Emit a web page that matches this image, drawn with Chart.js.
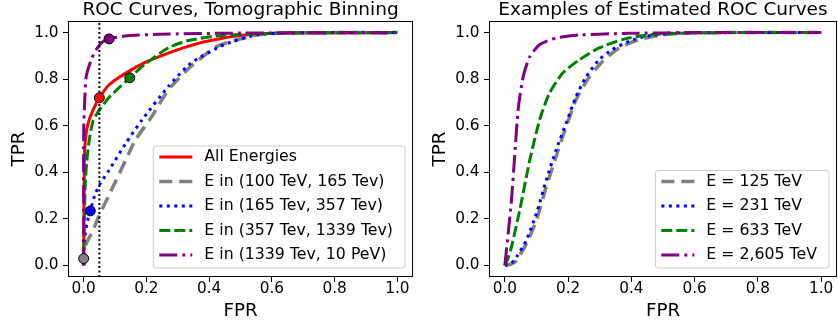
<!DOCTYPE html>
<html>
<head>
<meta charset="utf-8">
<script src="https://cdn.jsdelivr.net/npm/chart.js@4"></script>
<style>
  body { margin: 0; background: #fff; }
  #wrap { position: relative; width: 838px; height: 328px; }
  canvas { position: absolute; top: 0; }
</style>
</head>
<body>
<div id="wrap">
  <canvas id="left" width="419" height="328" style="left:0"></canvas>
  <canvas id="right" width="419" height="328" style="left:419px"></canvas>
</div>
<script>
// left panel: ROC per tomographic bin
const allFpr = [0, 0.002, 0.006, 0.014, 0.03, 0.05, 0.081, 0.134, 0.196, 0.27, 0.33, 0.4, 0.5, 0.65, 1];
const allTpr = [0, 0.45, 0.55, 0.61, 0.668, 0.72, 0.776, 0.826, 0.872, 0.912, 0.94, 0.965, 0.988, 0.998, 1];

const b100Fpr = [0, 0, 0.008, 0.03, 0.05, 0.081, 0.144, 0.165, 0.217, 0.27, 0.342, 0.426, 0.55, 0.65, 1];
const b100Tpr = [0, 0.05, 0.093, 0.151, 0.216, 0.302, 0.481, 0.539, 0.639, 0.754, 0.855, 0.941, 0.99, 0.999, 1];

const b165Fpr = [0, 0.002, 0.01, 0.021, 0.035, 0.05, 0.081, 0.134, 0.186, 0.27, 0.342, 0.447, 0.55, 0.65, 1];
const b165Tpr = [0, 0.1, 0.18, 0.234, 0.3, 0.345, 0.409, 0.524, 0.625, 0.769, 0.869, 0.948, 0.99, 0.999, 1];

const b357Fpr = [0, 0.002, 0.005, 0.01, 0.018, 0.03, 0.05, 0.08, 0.11, 0.147, 0.196, 0.27, 0.33, 0.42, 0.55, 0.7, 1];
const b357Tpr = [0, 0.2, 0.35, 0.45, 0.54, 0.62, 0.668, 0.72, 0.76, 0.806, 0.865, 0.935, 0.965, 0.985, 0.995, 0.999, 1];

const b1339Fpr = [0, 0, 0.003, 0.008, 0.024, 0.04, 0.06, 0.081, 0.13, 0.24, 0.5, 1];
const b1339Tpr = [0, 0.58, 0.7, 0.81, 0.884, 0.927, 0.96, 0.973, 0.985, 0.993, 0.998, 1];

// operating points (red, gray, blue, green, purple)
const markFpr = [0.05, 0, 0.021, 0.147, 0.081];
const markTpr = [0.72, 0.029, 0.234, 0.806, 0.973];
const cutFpr = 0.05;

// right panel: estimated ROC curves
const e125Fpr = [0, 0.02, 0.037, 0.068, 0.1, 0.131, 0.162, 0.194, 0.225, 0.267, 0.309, 0.361, 0.424, 0.497, 0.57, 0.7, 0.85, 1];
const e125Tpr = [0, 0.005, 0.021, 0.093, 0.194, 0.338, 0.467, 0.597, 0.711, 0.81, 0.876, 0.934, 0.97, 0.99, 0.998, 1, 1, 1];

const e231Fpr = [0, 0.02, 0.037, 0.068, 0.1, 0.131, 0.162, 0.194, 0.225, 0.257, 0.298, 0.34, 0.393, 0.445, 0.53, 0.65, 0.8, 1];
const e231Tpr = [0, 0.008, 0.036, 0.108, 0.223, 0.366, 0.496, 0.611, 0.725, 0.81, 0.884, 0.927, 0.963, 0.984, 0.997, 1, 1, 1];

const e633Fpr = [0, 0.01, 0.021, 0.047, 0.079, 0.11, 0.141, 0.183, 0.236, 0.298, 0.372, 0.445, 0.55, 0.7, 1];
const e633Tpr = [0, 0.03, 0.079, 0.237, 0.453, 0.625, 0.74, 0.826, 0.884, 0.934, 0.97, 0.989, 0.997, 1, 1];

const e2605Fpr = [0, 0.0105, 0.021, 0.031, 0.042, 0.058, 0.079, 0.11, 0.162, 0.236, 0.393, 0.6, 1];
const e2605Tpr = [0, 0.137, 0.28, 0.467, 0.668, 0.81, 0.897, 0.948, 0.977, 0.99, 0.997, 1, 1];

const tickVals = [0, 0.2, 0.4, 0.6, 0.8, 1.0];

const FONT = '"DejaVu Sans", sans-serif';
const RED = '#ff0000', GRAY = '#808080', BLUE = '#0000ff', GREEN = '#008000', PURPLE = '#800080';
const DASH_GRAY = [13, 7], DOT = [3, 4.5], DASH_GREEN = [11, 4], DASHDOT = [18, 5, 3, 5];

function curve(label, fpr, tpr, color, dash, width, order) {
  return {
    label: label,
    data: fpr.map((x, i) => ({ x: x, y: tpr[i] })),
    showLine: true,
    borderColor: color,
    backgroundColor: color,
    borderWidth: width,
    borderDash: dash,
    pointRadius: 0,
    tension: 0.2,
    fill: false,
    order: order
  };
}

function axis(label, size, titlePad, tickPad, isX) {
  return {
    type: 'linear',
    min: -0.05,
    max: 1.05,
    afterBuildTicks: s => { s.ticks = tickVals.map(v => ({ value: v })); },
    afterFit: s => { if (isX) s.height = size; else s.width = size; },
    grid: { display: true, drawOnChartArea: false, drawTicks: true, tickLength: 5, color: '#000', lineWidth: 1 },
    border: { display: false },
    ticks: { font: { size: 15.3, family: FONT }, color: '#000', padding: tickPad, maxRotation: 0, autoSkip: false,
      callback: v => Number(v).toFixed(1) },
    title: { display: true, text: label, color: '#000', font: { size: 18.3, family: FONT, lineHeight: 1.2 },
      padding: isX ? { top: 0, bottom: titlePad } : { top: titlePad, bottom: 0 } }
  };
}

const framePlugin = {
  id: 'frame',
  afterDatasetsDraw(chart) {
    const a = chart.chartArea, ctx = chart.ctx;
    ctx.save();
    ctx.strokeStyle = '#000';
    ctx.lineWidth = 1;
    ctx.setLineDash([]);
    ctx.strokeRect(Math.round(a.left) + 0.5, Math.round(a.top) + 0.5,
      Math.round(a.right - a.left) - 1, Math.round(a.bottom - a.top) - 1);
    ctx.restore();
  }
};

const boxLegend = {
  id: 'boxLegend',
  afterDraw(chart, args, opts) {
    const a = chart.chartArea, ctx = chart.ctx, items = opts.items;
    ctx.save();
    ctx.font = '15.75px ' + FONT;
    const tw = Math.max(...items.map(it => ctx.measureText(it.text).width));
    const rowH = 24.5;
    const w = 6 + 33 + 12 + tw + 12;
    const h = 11 + rowH * (items.length - 1) + 13;
    const x0 = a.right - 8 - w, y0 = a.bottom - 9 - h;
    ctx.beginPath();
    ctx.roundRect(x0, y0, w, h, 3);
    ctx.fillStyle = 'rgba(255,255,255,0.8)';
    ctx.fill();
    ctx.strokeStyle = '#cccccc';
    ctx.lineWidth = 1;
    ctx.stroke();
    items.forEach((it, i) => {
      const y = y0 + 11 + i * rowH;
      ctx.setLineDash(it.dash);
      ctx.lineWidth = it.width;
      ctx.strokeStyle = it.color;
      ctx.beginPath();
      ctx.moveTo(x0 + 6, y);
      ctx.lineTo(x0 + 39, y);
      ctx.stroke();
      ctx.setLineDash([]);
      ctx.fillStyle = '#000';
      ctx.textBaseline = 'middle';
      ctx.fillText(it.text, x0 + 51, y);
    });
    ctx.restore();
  }
};

function titleOpt(text) {
  return { display: true, text: text, fullSize: false, color: '#000',
    font: { size: 18.5, family: FONT, weight: 'normal', lineHeight: 1.08 }, padding: { top: 0, bottom: 1 } };
}

new Chart(document.getElementById('left'), {
  type: 'scatter',
  data: {
    datasets: [
      {
        label: 'points',
        data: markFpr.map((x, i) => ({ x: x, y: markTpr[i] })),
        showLine: false,
        pointRadius: 5,
        pointBorderWidth: 1,
        pointBorderColor: '#000',
        pointBackgroundColor: [RED, GRAY, BLUE, GREEN, PURPLE],
        order: -1
      },
      {
        label: 'cut',
        data: [{ x: cutFpr, y: -0.05 }, { x: cutFpr, y: 1.05 }],
        showLine: true,
        borderColor: '#000',
        borderWidth: 2,
        borderDash: [2, 2.5],
        pointRadius: 0,
        order: 0
      },
      curve('All Energies', allFpr, allTpr, RED, [], 3, 5),
      curve('E in (100 TeV, 165 Tev)', b100Fpr, b100Tpr, GRAY, DASH_GRAY, 3.5, 4),
      curve('E in (165 Tev, 357 Tev)', b165Fpr, b165Tpr, BLUE, DOT, 3, 3),
      curve('E in (357 Tev, 1339 Tev)', b357Fpr, b357Tpr, GREEN, DASH_GREEN, 3, 2),
      curve('E in (1339 Tev, 10 PeV)', b1339Fpr, b1339Tpr, PURPLE, DASHDOT, 3, 1)
    ]
  },
  options: {
    responsive: false,
    animation: false,
    devicePixelRatio: 1,
    layout: { padding: { left: 0, right: 1, top: 0, bottom: 0 } },
    scales: { x: axis('FPR', 51, 5.5, -2.5, true), y: axis('TPR', 68, 8.2, 4.5, false) },
    plugins: {
      legend: { display: false },
      tooltip: { enabled: false },
      title: titleOpt('ROC Curves, Tomographic Binning'),
      boxLegend: { items: [
        { text: 'All Energies', color: RED, dash: [], width: 3 },
        { text: 'E in (100 TeV, 165 Tev)', color: GRAY, dash: DASH_GRAY, width: 3.5 },
        { text: 'E in (165 Tev, 357 Tev)', color: BLUE, dash: DOT, width: 3 },
        { text: 'E in (357 Tev, 1339 Tev)', color: GREEN, dash: DASH_GREEN, width: 3 },
        { text: 'E in (1339 Tev, 10 PeV)', color: PURPLE, dash: DASHDOT, width: 3 }
      ] }
    }
  },
  plugins: [framePlugin, boxLegend]
});

new Chart(document.getElementById('right'), {
  type: 'scatter',
  data: {
    datasets: [
      curve('E = 125 TeV', e125Fpr, e125Tpr, GRAY, DASH_GRAY, 3.5, 4),
      curve('E = 231 TeV', e231Fpr, e231Tpr, BLUE, DOT, 3, 3),
      curve('E = 633 TeV', e633Fpr, e633Tpr, GREEN, DASH_GREEN, 3, 2),
      curve('E = 2,605 TeV', e2605Fpr, e2605Tpr, PURPLE, DASHDOT, 3, 1)
    ]
  },
  options: {
    responsive: false,
    animation: false,
    devicePixelRatio: 1,
    layout: { padding: { left: 0, right: 1, top: 0, bottom: 0 } },
    scales: { x: axis('FPR', 51, 5.5, -2.5, true), y: axis('TPR', 70, 10.2, 4.5, false) },
    plugins: {
      legend: { display: false },
      tooltip: { enabled: false },
      title: titleOpt('Examples of Estimated ROC Curves'),
      boxLegend: { items: [
        { text: 'E = 125 TeV', color: GRAY, dash: DASH_GRAY, width: 3.5 },
        { text: 'E = 231 TeV', color: BLUE, dash: DOT, width: 3 },
        { text: 'E = 633 TeV', color: GREEN, dash: DASH_GREEN, width: 3 },
        { text: 'E = 2,605 TeV', color: PURPLE, dash: DASHDOT, width: 3 }
      ] }
    }
  },
  plugins: [framePlugin, boxLegend]
});
</script>
</body>
</html>
